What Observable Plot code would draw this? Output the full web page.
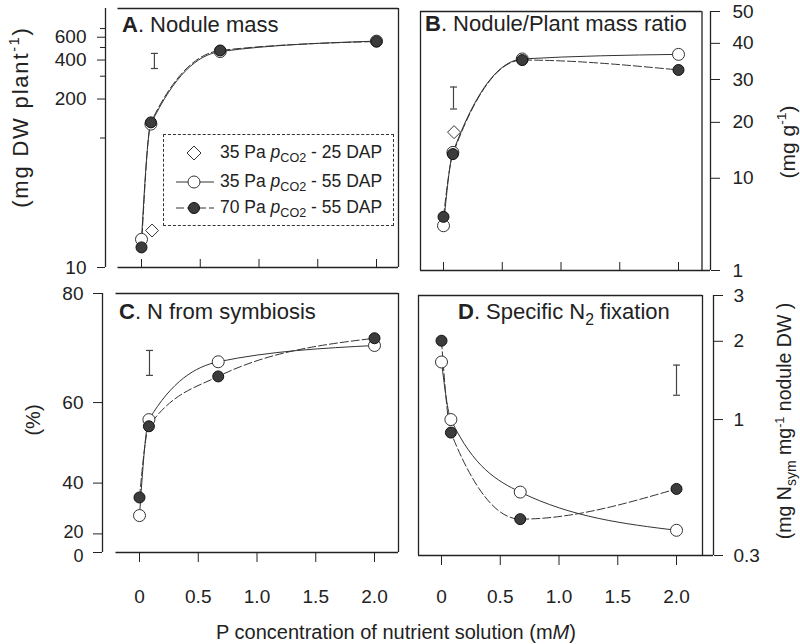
<!DOCTYPE html>
<html><head><meta charset="utf-8">
<script src="https://cdn.jsdelivr.net/npm/d3@7"></script>
<script src="https://cdn.jsdelivr.net/npm/@observablehq/plot@0.6"></script>
<style>
body{margin:0;background:#fff;}
#root{position:relative;width:800px;height:644px;font-family:"Liberation Sans",Arial,Helvetica,sans-serif;color:#222;overflow:hidden;background:#fff;}
.t{position:absolute;white-space:nowrap;line-height:1;}
.rot{position:absolute;white-space:nowrap;line-height:1;transform:translate(-50%,-50%) rotate(-90deg);}
sub{font-size:0.72em;vertical-align:-0.35em;line-height:0;}
sup{font-size:0.65em;vertical-align:0.6em;line-height:0;}
.leg{position:absolute;left:163px;top:134px;width:229px;height:90px;border:1px dashed #333;}
.row{position:absolute;left:0;height:24px;width:229px;}
.row svg{position:absolute;left:10px;top:0;}
.row span{position:absolute;left:56px;top:3px;font-size:17.5px;white-space:nowrap;line-height:1;}
</style></head><body><div id="root"></div>
<script>
// ---------- data ----------
const P = [0, 0.08, 0.67, 2.0];          // P concentration (mM)
const P25 = [0.09];                       // 25 DAP harvest point
const xTicks = [0, 0.5, 1.0, 1.5, 2.0];

// A. Nodule mass (mg DW plant-1)
const massLow55 = [16.5, 128, 465, 560];
const massHigh55 = [14.3, 132, 474, 556];
const massLow25 = [19.3];
const massTicks = [10, 200, 400, 600];
const massMinor = [100, 300, 500, 700];

// B. Nodule/Plant mass ratio (mg g-1)
const ratioLow55 = [4.2, 14.2, 35.5, 36.8];
const ratioHigh55 = [5.1, 13.9, 35.2, 32.5];
const ratioLow25 = [18.0];
const ratioTicks = [1, 10, 20, 30, 40, 50];

// C. N from symbiosis (%)
const symLow55 = [28.7, 56.3, 68.1, 71.1];
const symHigh55 = [35.4, 54.8, 65.3, 72.4];
const symTicks = [0, 20, 40, 60, 80];

// D. Specific N2 fixation (mg Nsym mg-1 nodule DW)
const fixLow55 = [1.665, 1.0, 0.526, 0.375];
const fixHigh55 = [2.01, 0.891, 0.414, 0.541];
const fixTicks = [0.3, 1, 2, 3];

// error (LSD) bars: x, low, high for panels A-D
const errX = [0.11, 0.085, 0.085, 2.0];
const errLo = [344, 22.9, 65.5, 1.24];
const errHi = [450, 28.1, 70.2, 1.62];

// ---------- helpers ----------
const PX = 117.5; // px per mM
const FONT = '"Liberation Sans", Arial, Helvetica, sans-serif';
const TICKFONT = 19;
const root = document.getElementById("root");
const hbar = {draw(ctx, size){ const w = Math.sqrt(size / Math.PI); ctx.moveTo(-w, 0); ctx.lineTo(w, 0); }};
const diamond = {draw(ctx, size){ const r = Math.sqrt(size / Math.PI); ctx.moveTo(0,-r); ctx.lineTo(r,0); ctx.lineTo(0,r); ctx.lineTo(-r,0); ctx.closePath(); }};
const fmtX = d => d === 0 ? "0" : d.toFixed(1);

function seriesMarks(low55, high55, low25, k) {
  const lo = P.map((p, i) => ({p, v: low55[i]}));
  const hi = P.map((p, i) => ({p, v: high55[i]}));
  const d25 = low25 ? P25.map((p, i) => ({p, v: low25[i]})) : [];
  const e = [{x: errX[k], lo: errLo[k], hi: errHi[k]}];
  return [
    Plot.ruleX(e, {x: "x", y1: "lo", y2: "hi", stroke: "#444", strokeWidth: 1.2}),
    Plot.dot(e, {x: "x", y: "lo", symbol: hbar, r: 3.5, fill: "none", stroke: "#444", strokeWidth: 1.2}),
    Plot.dot(e, {x: "x", y: "hi", symbol: hbar, r: 3.5, fill: "none", stroke: "#444", strokeWidth: 1.2}),
    Plot.line(lo, {x: "p", y: "v", curve: "monotone-x", stroke: "#333", strokeWidth: 1}),
    Plot.line(hi, {x: "p", y: "v", curve: "monotone-x", stroke: "#333", strokeWidth: 1, strokeDasharray: "8,3"}),
    Plot.dot(d25, {x: "p", y: "v", symbol: diamond, r: 6.5, fill: "white", stroke: "#333", strokeWidth: 1}),
    Plot.dot(lo, {x: "p", y: "v", r: 6, fill: "white", stroke: "#333", strokeWidth: 1}),
    Plot.dot(hi, {x: "p", y: "v", r: 5.5, fill: "#3c3c3c", stroke: "#111", strokeWidth: 1})
  ];
}

function panel(cfg) {
  const {left, top, w, h, fl, fr, ft, fb, x0, boxL, boxR, y, yTop, yBot, axisSide, xAxis, marks} = cfg;
  const xd = [(fl - x0) / PX, (fr - x0) / PX];
  const frameH = fb - ft;
  const frameMarks = [
    Plot.ruleX([axisSide === "left" ? xd[0] : xd[1]], {stroke: "#222", strokeWidth: 1.3}),
    Plot.ruleY([yTop], {x1: boxL, x2: boxR, stroke: "#222", strokeWidth: 1.3}),
    Plot.ruleY([yBot], {x1: boxL, x2: axisSide === "left" ? boxR : xd[1], stroke: "#222", strokeWidth: 1.5}),
    Plot.ruleX([axisSide === "left" ? boxR : boxL], {stroke: "#222", strokeWidth: 1.3}),
  ];
  if (axisSide === "right") frameMarks.push(Plot.ruleX([boxR], {stroke: "#222", strokeWidth: 1.3}));
  if (!xAxis) frameMarks.push(Plot.ruleX(xTicks, {insetTop: frameH - 8, stroke: "#222", strokeWidth: 1}));
  const extra = cfg.extra ? cfg.extra(xd) : [];
  const svg = Plot.plot({
    width: w, height: h,
    marginLeft: fl - left, marginRight: left + w - fr, marginTop: ft - top, marginBottom: top + h - fb,
    style: {background: "transparent", fontFamily: FONT, fontSize: TICKFONT + "px", color: "#222", overflow: "visible"},
    x: xAxis ? {domain: xd, axis: "bottom", ticks: xTicks, tickFormat: fmtX, tickSize: 10, tickPadding: xAxis.pad, label: null}
             : {domain: xd, axis: null},
    y: Object.assign({axis: axisSide, label: null}, y),
    marks: [...frameMarks, ...extra, ...marks]
  });
  svg.style.position = "absolute";
  svg.style.left = left + "px";
  svg.style.top = top + "px";
  root.appendChild(svg);
}

// A (y axis drawn with marks)
panel({left: 0, top: 0, w: 410, h: 280, fl: 105, fr: 398, ft: 8, fb: 267, x0: 141,
  boxL: -0.2, boxR: (398 - 141) / PX, yTop: 1000, yBot: 10, axisSide: "left",
  y: {type: "log", domain: [10, 1000], axis: null},
  extra: xd => [
    Plot.ruleY(massTicks, {y: d => d, x1: xd[0], x2: xd[0] - 8 / PX, stroke: "#222"}),
    Plot.ruleY(massMinor, {y: d => d, x1: xd[0], x2: xd[0] - 5 / PX, stroke: "#222"}),
    Plot.text(massTicks, {x: xd[0], y: d => d, text: d => String(d), dx: -19, textAnchor: "end", fontSize: TICKFONT, fill: "#222"})
  ],
  marks: seriesMarks(massLow55, massHigh55, massLow25, 0)});

// B
panel({left: 410, top: 0, w: 390, h: 280, fl: 420, fr: 710, ft: 11, fb: 270, x0: 443,
  boxL: (420 - 443) / PX, boxR: 2.2, yTop: 50, yBot: 1, axisSide: "right",
  y: {type: "sqrt", domain: [1, 50], ticks: ratioTicks, tickFormat: d => String(d), tickSize: 9, tickPadding: 13},
  marks: seriesMarks(ratioLow55, ratioHigh55, ratioLow25, 1)});

// C (y axis drawn with marks; bottom two labels nudged apart)
panel({left: 0, top: 280, w: 410, h: 330, fl: 102, fr: 398, ft: 293, fb: 552, x0: 139,
  boxL: -0.2, boxR: (398 - 139) / PX, yTop: 80, yBot: 0, axisSide: "left", xAxis: {pad: 27},
  y: {type: "pow", exponent: 1.9, domain: [0, 80], axis: null},
  extra: xd => [
    Plot.ruleY(symTicks, {y: d => d, x1: xd[0], x2: xd[0] - 9 / PX, stroke: "#222"}),
    Plot.text(symTicks.slice(2), {x: xd[0], y: d => d, text: d => String(d), dx: -19, textAnchor: "end", fontSize: TICKFONT, fill: "#222"}),
    Plot.text(symTicks.slice(1, 2), {x: xd[0], y: d => d, text: d => String(d), dx: -19, dy: -2, textAnchor: "end", fontSize: 18, fill: "#222"}),
    Plot.text(symTicks.slice(0, 1), {x: xd[0], y: d => d, text: d => String(d), dx: -19, dy: 4, textAnchor: "end", fontSize: 18, fill: "#222"})
  ],
  marks: seriesMarks(symLow55, symHigh55, null, 2)});

// D
panel({left: 410, top: 280, w: 390, h: 330, fl: 418, fr: 713, ft: 295, fb: 555, x0: 441,
  boxL: (418 - 441) / PX, boxR: (702 - 441) / PX, yTop: 3, yBot: 0.3, axisSide: "right", xAxis: {pad: 24},
  y: {type: "log", domain: [0.3, 3], ticks: fixTicks, tickFormat: d => String(d), tickSize: 9, tickPadding: 11},
  marks: seriesMarks(fixLow55, fixHigh55, null, 3)});

// ---------- text ----------
function addText(html, cls, left, top, size, ls) {
  const d = document.createElement("div");
  d.className = cls; d.innerHTML = html;
  d.style.left = left + "px"; d.style.top = top + "px"; d.style.fontSize = size + "px";
  if (ls) d.style.letterSpacing = ls + "px";
  root.appendChild(d);
}
addText("<b>A</b>. Nodule mass", "t", 122, 14, 22);
addText("<b>B</b>. Nodule/Plant mass ratio", "t", 425, 13, 22);
addText("<b>C</b>. N from symbiosis", "t", 119, 301, 22);
addText("<b>D</b>. Specific N<sub>2</sub> fixation", "t", 458, 301, 22);
addText("(mg DW plant<sup>-1</sup>)", "rot", 21, 117, 22, 1.8);
addText("(mg g<sup>-1</sup>)", "rot", 787, 142, 21);
addText("(%)", "rot", 33, 420, 20);
addText("(mg N<sub>sym</sub> mg<sup>-1</sup> nodule DW )", "rot", 785, 421, 19.5);
const xt = document.createElement("div");
xt.className = "t"; xt.style.left = "0px"; xt.style.width = "792px"; xt.style.textAlign = "center";
xt.style.top = "622px"; xt.style.fontSize = "20px";
xt.innerHTML = "P concentration of nutrient solution (m<i>M</i>)";
root.appendChild(xt);

// ---------- legend ----------
const leg = document.createElement("div");
leg.className = "leg";
const legRows = [
  {sym: '<path d="M20,5 L27,12 L20,19 L13,12 Z" fill="white" stroke="#333"/>', label: "35 Pa <i>p</i><sub>CO2</sub> - 25 DAP"},
  {sym: '<line x1="2" y1="12" x2="40" y2="12" stroke="#333"/><circle cx="20" cy="12" r="6" fill="white" stroke="#333"/>', label: "35 Pa <i>p</i><sub>CO2</sub> - 55 DAP"},
  {sym: '<line x1="2" y1="12" x2="40" y2="12" stroke="#333" stroke-dasharray="8,3"/><circle cx="20" cy="12" r="5.5" fill="#3c3c3c" stroke="#111"/>', label: "70 Pa <i>p</i><sub>CO2</sub> - 55 DAP"}
];
const rowTops = [6, 35, 61];
legRows.forEach((r, i) => {
  const row = document.createElement("div");
  row.className = "row"; row.style.top = rowTops[i] + "px";
  row.innerHTML = `<svg width="42" height="24">${r.sym}</svg><span>${r.label}</span>`;
  leg.appendChild(row);
});
root.appendChild(leg);
</script></body></html>
